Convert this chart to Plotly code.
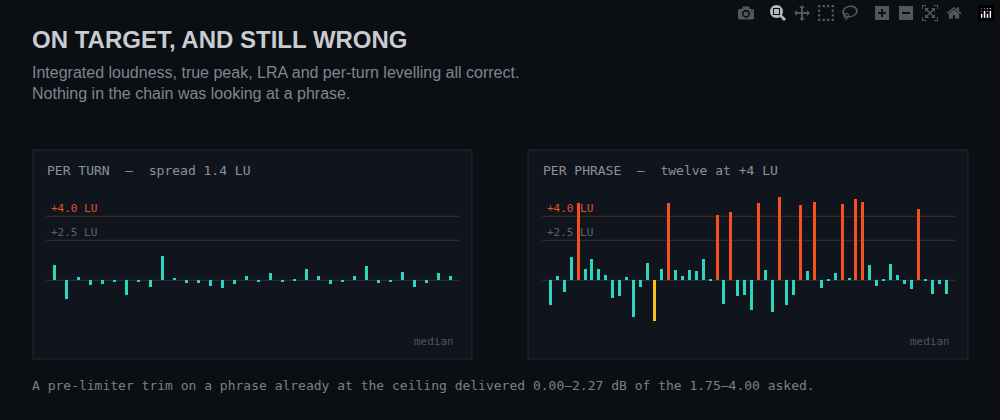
import plotly.graph_objects as go

turn_values = [0.96, -1.15, 0.21, -0.27, -0.21, -0.1, -0.9, -0.1, -0.4, 1.52, 0.15, -0.15, -0.15,
               -0.33, -0.46, -0.21, 0.27, -0.1, 0.46, -0.1, 0.04, 0.71, 0.27, -0.21, -0.1, 0.27,
               0.9, -0.15, -0.1, 0.52, -0.4, -0.15, 0.46, 0.27]
phrase_values = [-1.54, 0.27, -0.73, 1.46, 4.85, 0.71, 1.33, 0.71, 0.33, -1.08, -0.98, 0.21, -2.27,
                 -0.4, 1.08, -2.52, 0.71, 4.85, 0.65, 0.27, 0.65, 0.58, 1.33, 0.04, 4.1, -1.48,
                 4.29, -0.98, -0.92, -1.85, 4.85, 0.65, -1.98, 5.23, -1.54, -0.92, 4.73, 0.58,
                 4.92, -0.46, 0.1, 0.46, 4.79, 0.15, 5.1, 4.92, 0.96, -0.33, 0.1, 1.02, 0.33,
                 -0.21, -0.52, 4.48, 0.04, -0.83, -0.21, -0.83]
flag_index = 15  # the yellow bar
ceiling = 4.0
target = 2.5

TEAL, RED, YEL = "#2dd4bf", "#f4511e", "#fbbf24"
MONO = "DejaVu Sans Mono"

def colors(vals):
    out = []
    for i, v in enumerate(vals):
        if i == flag_index and vals is phrase_values:
            out.append(YEL)
        elif v >= ceiling:
            out.append(RED)
        else:
            out.append(TEAL)
    return out

fig = go.Figure()
fig.add_bar(x=list(range(len(turn_values))), y=turn_values, marker_color=colors(turn_values),
            marker_line_width=0, width=0.25, xaxis="x", yaxis="y", hoverinfo="skip")
fig.add_bar(x=list(range(len(phrase_values))), y=phrase_values, marker_color=colors(phrase_values),
            marker_line_width=0, width=0.43, xaxis="x2", yaxis="y2", hoverinfo="skip")

yr = [-4.98, 8.14]
ydom = [1 - 360 / 420, 1 - 150 / 420]
fig.update_layout(
    width=1000, height=420, margin=dict(l=0, r=0, t=0, b=0),
    paper_bgcolor="#0b0e13", plot_bgcolor="rgba(0,0,0,0)", showlegend=False, bargap=0,
    xaxis=dict(domain=[0.046, 0.459], range=[-0.69, len(turn_values) - 1 + 0.69], visible=False),
    yaxis=dict(domain=ydom, range=yr, visible=False),
    xaxis2=dict(domain=[0.542, 0.955], range=[-1.19, len(phrase_values) - 1 + 1.25], visible=False),
    yaxis2=dict(domain=ydom, range=yr, visible=False, anchor="x2"),
)

shapes = []
for x0, x1 in [(33, 472), (528, 968)]:
    shapes.append(dict(type="rect", xref="paper", yref="paper", x0=x0 / 1000, x1=x1 / 1000,
                       y0=1 - 359 / 420, y1=1 - 150 / 420, fillcolor="#10151d",
                       line=dict(color="#232a33", width=1), layer="below"))
for xa, ya in [("x", "y"), ("x2", "y2")]:
    for lv in [ceiling, target]:
        shapes.append(dict(type="line", xref=f"{xa} domain", yref=ya, x0=0, x1=1, y0=lv, y1=lv,
                           line=dict(color="#4a2c22", width=1), layer="below"))
    shapes.append(dict(type="line", xref=f"{xa} domain", yref=ya, x0=0, x1=1, y0=0, y1=0,
                       line=dict(color="#2a3440", width=1), layer="below"))
fig.update_layout(shapes=shapes)

ann = []
def t(x, y, text, size, color, family=MONO, anchor="left", **kw):
    ann.append(dict(xref="paper", yref="paper", x=x / 1000, y=1 - y / 420, text=text,
                    showarrow=False, xanchor=anchor, yanchor="middle",
                    font=dict(size=size, color=color, family=family), **kw))

t(30, 39, "<b>ON TARGET, AND STILL WRONG</b>", 24, "#c8cbd0", "Liberation Sans")
t(30, 72, "Integrated loudness, true peak, LRA and per-turn levelling all correct.", 16, "#7f8690", "Liberation Sans")
t(30, 94, "Nothing in the chain was looking at a phrase.", 16, "#7f8690", "Liberation Sans")
t(45, 170, "PER TURN  —  spread 1.4 LU", 13, "#8a919a")
t(541, 170, "PER PHRASE  —  twelve at +4 LU", 13, "#8a919a")
for x0 in [49, 545]:
    t(x0, 208, "+4.0 LU", 11, "#e0532a")
    t(x0, 232, "+2.5 LU", 11, "#5d636b")
t(456, 341, "median", 11, "#4f565e", anchor="right")
t(952, 341, "median", 11, "#4f565e", anchor="right")
t(30, 385, "A pre-limiter trim on a phrase already at the ceiling delivered 0.00–2.27 dB of the 1.75–4.00 asked.", 13, "#7a8089")
fig.update_layout(annotations=ann)

fig.write_html("out.html", post_script="document.body.style.margin='0';document.body.style.background='#0b0e13';")
